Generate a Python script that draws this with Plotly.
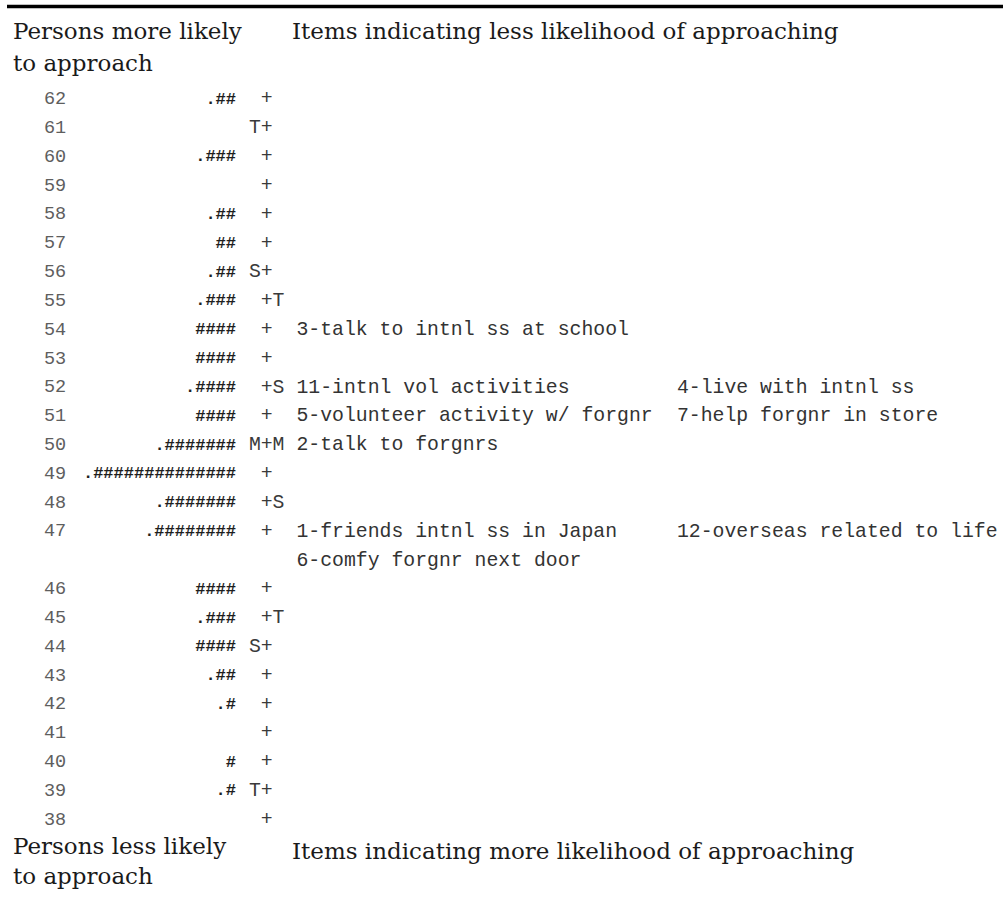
import plotly.graph_objects as go

# Wright map: person measures on the left, item difficulties on the right
measures = list(range(62, 37, -1))
person_bars = [
    ".##", "", ".###", "", ".##", "##", ".##", ".###", "####", "####",
    ".####", "####", ".#######", ".##############", ".#######", ".########",
    "####", ".###", "####", ".##", ".#", "", "#", ".#", "",
]
person_marks = ["", "T", "", "", "", "", "S", "", "", "", "", "", "M",
                "", "", "", "", "", "S", "", "", "", "", "T", ""]
item_marks = ["", "", "", "", "", "", "", "T", "", "", "S", "", "M",
              "", "S", "", "", "T", "", "", "", "", "", "", ""]

item_measures = [54, 52, 52, 51, 51, 50, 47, 47, 47]
item_labels = [
    "3-talk to intnl ss at school",
    "11-intnl vol activities",
    "4-live with intnl ss",
    "5-volunteer activity w/ forgnr",
    "7-help forgnr in store",
    "2-talk to forgnrs",
    "1-friends intnl ss in Japan",
    "12-overseas related to life",
    "6-comfy forgnr next door",
]

top_left = ["Persons more likely", "to approach"]
top_right = "Items indicating less likelihood of approaching"
bottom_left = ["Persons less likely", "to approach"]
bottom_right = "Items indicating more likelihood of approaching"

# column positions (px) and fonts
X_NUM, X_PERSON, X_AXIS = 44, 236, 266.7
X_ITEM_COLS = [296.5, 677]
X_HEAD = [13, 292]
MONO = "Liberation Mono"
SERIF = "DejaVu Serif"
LINE_PX, FIRST_LINE_PX, H, W = 28.82, 99.5, 898, 1003

# one text line per measure, plus wrap lines when items overflow two columns
line_of = {}
item_pos = []
line = 0
for m in measures:
    line_of[m] = line
    its = [i for i, im in enumerate(item_measures) if im == m]
    for k, i in enumerate(its):
        item_pos.append((i, line + k // 2, X_ITEM_COLS[k % 2]))
    line += max(1, (len(its) + 1) // 2)

ys = [line_of[m] for m in measures]

fig = go.Figure()

fig.add_trace(go.Scatter(
    x=[X_NUM] * len(measures), y=ys, mode="text",
    text=[str(m) for m in measures], textposition="middle right",
    textfont=dict(family=MONO, size=18.5, color="#5e5e5e"),
    hoverinfo="skip", showlegend=False))

fig.add_trace(go.Scatter(
    x=[X_PERSON] * len(measures), y=ys, mode="text",
    text=person_bars, textposition="middle left",
    textfont=dict(family=MONO, size=17, color="#1e1e1e", weight="bold"),
    hoverinfo="skip", showlegend=False))

fig.add_trace(go.Scatter(
    x=[X_AXIS] * len(measures), y=ys, mode="text",
    text=[(l or " ") + "+" + (r or " ") for l, r in zip(person_marks, item_marks)],
    textposition="middle center",
    textfont=dict(family=MONO, size=19.8, color="#3a3a3a"),
    hoverinfo="skip", showlegend=False))

fig.add_trace(go.Scatter(
    x=[p[2] for p in item_pos], y=[p[1] for p in item_pos], mode="text",
    text=[item_labels[p[0]] for p in item_pos], textposition="middle right",
    textfont=dict(family=MONO, size=19.8, color="#333333"),
    hoverinfo="skip", showlegend=False))

# headers and footers
def to_line(px):
    return (px - FIRST_LINE_PX) / LINE_PX

head_x = [X_HEAD[0], X_HEAD[0], X_HEAD[1], X_HEAD[0], X_HEAD[0], X_HEAD[1]]
head_y = [to_line(p) for p in (33, 65.5, 33, 848, 878, 853)]
head_t = top_left + [top_right] + bottom_left + [bottom_right]
fig.add_trace(go.Scatter(
    x=head_x, y=head_y, mode="text", text=head_t, textposition="middle right",
    textfont=dict(family=SERIF, size=23, color="#1a1a1a"),
    hoverinfo="skip", showlegend=False))

# heavy rule across the top
fig.add_shape(type="line", xref="x", yref="y", x0=7, x1=W,
              y0=to_line(6.5), y1=to_line(6.5),
              line=dict(color="#000000", width=3.5))

fig.update_layout(
    width=W, height=H, margin=dict(l=0, r=0, t=0, b=0),
    paper_bgcolor="white", plot_bgcolor="white",
    xaxis=dict(range=[0, W], visible=False, fixedrange=True),
    yaxis=dict(range=[to_line(H), to_line(0)], visible=False, fixedrange=True),
)

fig.write_html("out.html")
